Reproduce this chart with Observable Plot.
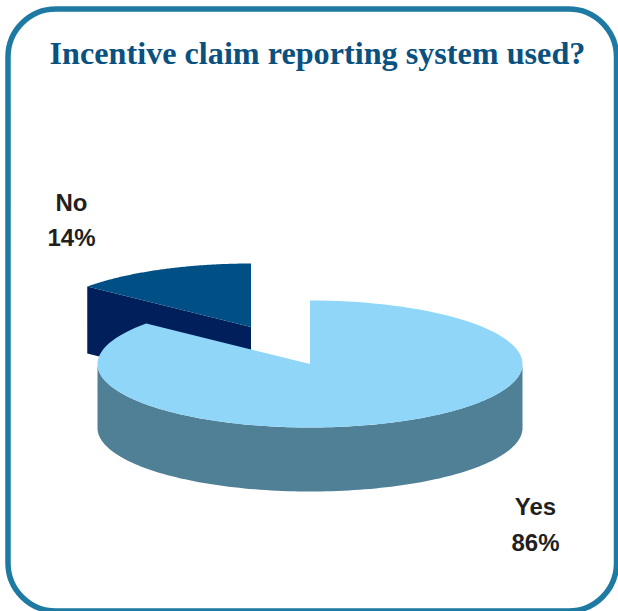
<!DOCTYPE html>
<html>
<head>
<meta charset="utf-8">
<script src="https://cdn.jsdelivr.net/npm/d3@7"></script>
<script src="https://cdn.jsdelivr.net/npm/@observablehq/plot@0.6"></script>
<style>html,body{margin:0;padding:0;background:#fff}svg{display:block}</style>
</head>
<body>
<script>
const chartTitle = "Incentive claim reporting system used?";
const categories = ["Yes", "No"];
const shares = [86, 14];
const partNames = ["No side", "No top", "Yes side", "Yes top"];
const partColors = ["#001F5B", "#005086", "#508096", "#8FD6F9"];

// Pie projection: a tilted ellipse with a wall below it; the No slice is pulled out.
const radiusX = 212.5, radiusY = 63.5, yesDepth = 64, noDepth = 67;
const yesCentre = [309.5, 363.5], noCentre = [250.5, 326.5];
const rad = d => d * Math.PI / 180;
const turn = s => s * 3.6;
const rim = ([cx, cy], deg, drop = 0) => ({x: cx + radiusX * Math.sin(rad(deg)), y: cy - radiusY * Math.cos(rad(deg)) + drop});
const arc = (c, a, b, drop = 0) => d3.range(0, 121).map(i => rim(c, a + (b - a) * i / 120, drop));

const yesEnd = turn(shares[0]);
const noEnd = yesEnd + turn(shares[1]);
const at = (c, drop = 0) => ({x: c[0], y: c[1] + drop});
const tag = (part, pts) => pts.map(p => ({...p, part}));

const points = [
  ...tag("No side", [at(noCentre), rim(noCentre, yesEnd), rim(noCentre, yesEnd, noDepth), at(noCentre, noDepth)]),
  ...tag("No top", [at(noCentre), ...arc(noCentre, yesEnd, noEnd)]),
  ...tag("Yes side", [...arc(yesCentre, 90, 270), ...arc(yesCentre, 270, 90, yesDepth)]),
  ...tag("Yes top", [at(yesCentre), ...arc(yesCentre, 0, yesEnd)])
];

const labels = [
  {text: categories[1], x: 71, y: 203},
  {text: shares[1] + "%", x: 71, y: 238},
  {text: categories[0], x: 535, y: 507},
  {text: shares[0] + "%", x: 535, y: 543}
];

const plot = Plot.plot({
  width: 618, height: 611,
  margin: 0,
  x: {domain: [0, 618], range: [0, 618], axis: null},
  y: {domain: [0, 611], range: [0, 611], axis: null},
  color: {domain: partNames, range: partColors},
  style: {background: "#fff"},
  marks: [
    Plot.frame({stroke: "#1F7AA3", strokeWidth: 5.5, fill: "#fff", rx: 48,
      insetLeft: 7.5, insetRight: 2, insetTop: 8.5, insetBottom: 0.5}),
    Plot.line(points, {x: "x", y: "y", z: "part", fill: "part", stroke: null, curve: "linear"}),
    Plot.text([chartTitle], {x: 317, y: 53.5, text: d => d, fill: "#0A5180",
      fontFamily: "Liberation Serif", fontWeight: 700, fontSize: 32.2, textAnchor: "middle"}),
    Plot.text(labels, {x: "x", y: "y", text: "text", fill: "#231F20",
      fontFamily: "Liberation Sans", fontWeight: 700, fontSize: 24, textAnchor: "middle"})
  ]
});
document.body.appendChild(plot);
</script>
</body>
</html>
